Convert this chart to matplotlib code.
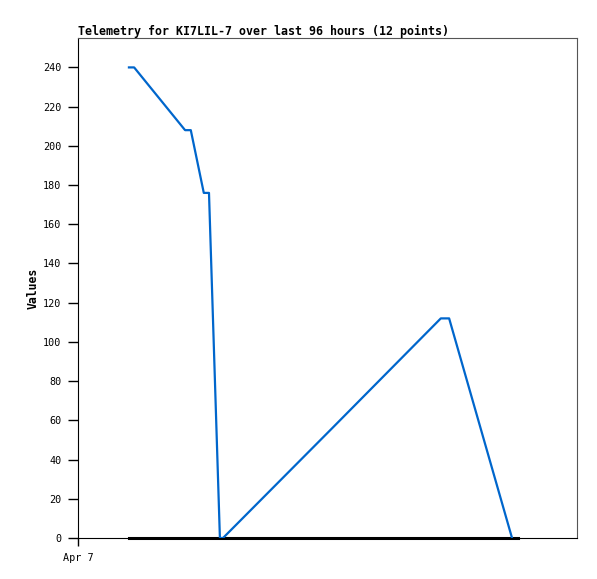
#!/usr/bin/env python3

import matplotlib
matplotlib.use("Agg")
import matplotlib.pyplot as plt

# ----------------------------------------------------------
# data (hours since start of window)
# ----------------------------------------------------------
hours = [9.8, 10.8, 20.6, 21.7, 24.2, 25.2, 27.3, 27.9, 48.9, 69.8, 71.4, 83.5]
values = [240, 240, 208, 208, 176, 176, 0, 0, 56, 112, 112, 0]

base_hours = [9.8, 84.6]
base_values = [0, 0]

x_ticks = [0]
x_tick_labels = ["Apr 7"]
y_ticks = list(range(0, 241, 20))

TITLE = "Telemetry for KI7LIL-7 over last 96 hours (12 points)"

# ----------------------------------------------------------
# plot
# ----------------------------------------------------------
plt.rcParams["font.family"] = ["DejaVu Sans Mono"]

fig = plt.figure(figsize=(5.97, 5.79), dpi=100)
ax = fig.add_axes([78/597, 1 - 538/579, 499/597, 500/579])

ax.plot(base_hours, base_values, color="black", linewidth=2.2, zorder=2,
        clip_on=False)
ax.plot(hours, values, color="#0066cc", linewidth=1.6, zorder=3)

ax.set_xlim(0, 96)
ax.set_ylim(0, 255)

ax.set_xticks(x_ticks)
ax.set_xticklabels(x_tick_labels)
ax.set_yticks(y_ticks)
ax.tick_params(axis="y", direction="out", length=7, width=1,
               labelsize=7.3, colors="black", pad=5)
ax.tick_params(axis="x", direction="out", length=6, width=1,
               labelsize=7.3, colors="black", pad=5)

for side in ["top", "right"]:
    ax.spines[side].set_color("#555555")
for side in ["left", "bottom"]:
    ax.spines[side].set_color("black")

ax.set_ylabel("Values", fontsize=8.3, fontweight="bold")
ax.yaxis.set_label_coords(-0.076, 0.5)
ax.set_title(TITLE, fontsize=8.4, fontweight="bold", loc="left", pad=2)

fig.savefig("out.png", dpi=100)
